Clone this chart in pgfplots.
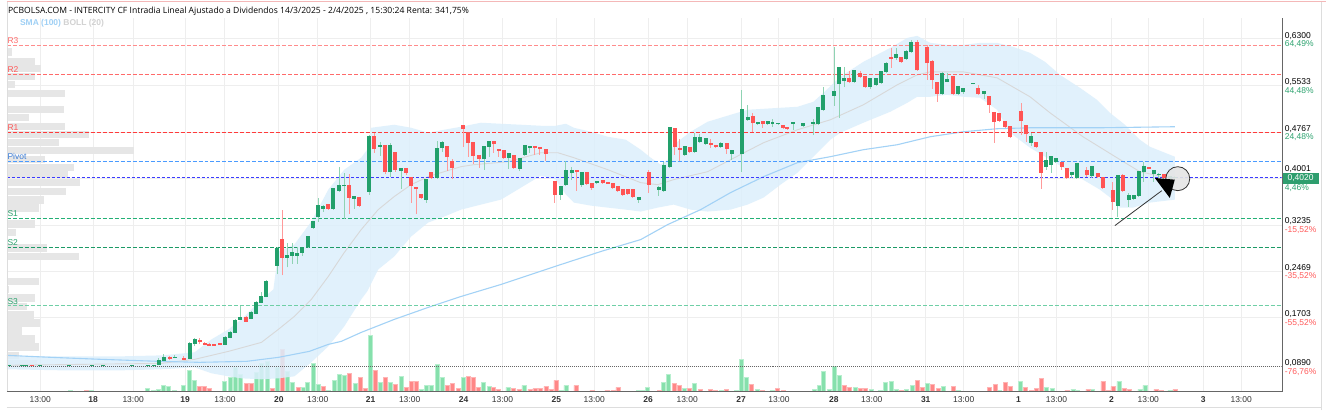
\documentclass[border=0pt]{standalone}
\usepackage{fontspec}
\setmainfont{Liberation Sans}
\newfontfamily\titlefont{Open Sans}
\usepackage{pgfplots}
\pgfplotsset{compat=1.18}
\usepackage{pgfplotstable}

\definecolor{gridgrey}{HTML}{EEEEEE}
\definecolor{axisgrey}{HTML}{666666}
\definecolor{framegrey}{HTML}{DDDDDD}
\definecolor{pinkline}{HTML}{F4B8B8}
\definecolor{bodygreen}{HTML}{22A06B}
\definecolor{wickgreen}{HTML}{8FD3B3}
\definecolor{bodyred}{HTML}{FF5454}
\definecolor{wickred}{HTML}{FF9A9A}
\definecolor{volgreen}{HTML}{86E0AC}
\definecolor{volgreenedge}{HTML}{B8EFCF}
\definecolor{volred}{HTML}{FF8787}
\definecolor{volrededge}{HTML}{FFB5B5}
\definecolor{profgrey}{HTML}{E6E6E6}
\definecolor{bandblue}{HTML}{DCEFFC}
\definecolor{midgrey}{HTML}{D8D8D8}
\definecolor{smablue}{HTML}{A3D2F6}
\definecolor{levRthree}{HTML}{FF8C8C}
\definecolor{levRtwo}{HTML}{FF6A6A}
\definecolor{levRone}{HTML}{FF3B3B}
\definecolor{levPivot}{HTML}{4A9BFF}
\definecolor{levCur}{HTML}{3B3BFF}
\definecolor{levSone}{HTML}{22B075}
\definecolor{levStwo}{HTML}{1C9A66}
\definecolor{levSthree}{HTML}{6FCFA6}
\definecolor{labred}{HTML}{FF5A5A}
\definecolor{labgreen}{HTML}{2DA36F}
\definecolor{labblue}{HTML}{3B7DD8}
\definecolor{boxgreen}{HTML}{2E9E6E}
\definecolor{legblue}{HTML}{9FD0F5}
\definecolor{leggrey}{HTML}{D2D2D2}
\definecolor{ticktext}{HTML}{333333}

\pgfplotstableread{
x o h l c
7 .0905 .0925 .0900 .0913
20 .0905 .0920 .0900 .0913
24 .0907 .0918 .0903 .0913
38 .0905 .0915 .0900 .0913
67 .0910 .0918 .0905 .0915
90 .0908 .0915 .0905 .0913
101 .0908 .0915 .0905 .0913
130 .0908 .0918 .0905 .0913
146 .0905 .0920 .0900 .0915
152 .0913 .0925 .0908 .0920
157 .0929 .1028 .0913 .0995
162 .0995 .1094 .0978 .1044
173 .1036 .1077 .1028 .1044
188 .1028 .1291 .1011 .1275
193 .1275 .1357 .1226 .1341
224 .1258 .1390 .1242 .1374
229 .1374 .1473 .1357 .1456
234 .1456 .1670 .1440 .1654
239 .1670 .1884 .1670 .1703
250 .1687 .1802 .1670 .1786
255 .1769 .1967 .1753 .1950
260 .1950 .2115 .1934 .2049
265 .2049 .2313 .2033 .2296
276 .2560 .2873 .2412 .2840
286 .2692 .2939 .2527 .2725
291 .2725 .2939 .2593 .2774
296 .2725 .2873 .2593 .2766
301 .2774 .2873 .2725 .2856
307 .2873 .3054 .2856 .3038
312 .3186 .3301 .3170 .3285
317 .3367 .3680 .3285 .3548
322 .3499 .3565 .3450 .3532
332 .3499 .3845 .3482 .3828
338 .3795 .4191 .3779 .3878
343 .3870 .4092 .3334 .3878
353 .3664 .3713 .3499 .3697
368 .3779 .4718 .3730 .4685
379 .4520 .4603 .4372 .4537
389 .4108 .4586 .4026 .4537
400 .4125 .4174 .3828 .4158
425 .3647 .3993 .3598 .3977
436 .4010 .4619 .3993 .4487
441 .4504 .4619 .4438 .4586
483 .4323 .4537 .4141 .4520
488 .4520 .4619 .4356 .4603
508 .4339 .4421 .4158 .4405
519 .4158 .4339 .4125 .4323
524 .4389 .4553 .4372 .4537
529 .4512 .4537 .4421 .4520
560 .3730 .3878 .3647 .3861
565 .3894 .4290 .3878 .4125
571 .4092 .4191 .3977 .4125
581 .3894 .4108 .3861 .4092
596 .3927 .3960 .3911 .3944
638 .3647 .3680 .3598 .3680
658 .3812 .3878 .3713 .3845
663 .3795 .4273 .3779 .4207
669 .4191 .4850 .4174 .4833
684 .4389 .4537 .4372 .4520
694 .4438 .4751 .4421 .4669
699 .4603 .4734 .4586 .4669
705 .4570 .4669 .4553 .4652
720 .4520 .4603 .4504 .4570
731 .4405 .4471 .4306 .4454
741 .4405 .5459 .4108 .5130
747 .4965 .5212 .4949 .4998
757 .4899 .4932 .4883 .4916
767 .4899 .4949 .4883 .4932
772 .4899 .4982 .4850 .4916
778 .4899 .4916 .4883 .4908
793 .4899 .4916 .4800 .4916
803 .4866 .4899 .4850 .4899
813 .4899 .4982 .4718 .4916
818 .4899 .5179 .4883 .5163
823 .5130 .5509 .5113 .5360
834 .5360 .6168 .5196 .5426
839 .5558 .5838 .4998 .5822
844 .5608 .5838 .5509 .5641
854 .5591 .5789 .5575 .5772
870 .5509 .5657 .5476 .5641
876 .5542 .5657 .5525 .5641
881 .5575 .5772 .5558 .5756
886 .5756 .5921 .5739 .5904
896 .5987 .6151 .5954 .6052
906 .5970 .6118 .5954 .6102
911 .6085 .6283 .6069 .6250
942 .5393 .5756 .5377 .5723
947 .5591 .5739 .5583 .5624
958 .5393 .5525 .5377 .5509
963 .5426 .5492 .5393 .5476
973 .5558 .5575 .5550 .5566
984 .5393 .5443 .5311 .5426
1031 .4586 .4751 .4537 .4685
1046 .4191 .4438 .4141 .4290
1051 .4224 .4372 .4092 .4356
1056 .4273 .4339 .4257 .4323
1072 .4059 .4108 .4010 .4092
1077 .4010 .4257 .3993 .4240
1092 .4043 .4207 .4010 .4191
1118 .3548 .4059 .3367 .4043
1129 .3647 .3763 .3532 .3713
1134 .3664 .3722 .3647 .3713
1139 .3713 .4125 .3697 .4108
1144 .4108 .4273 .3944 .4191
1154 .4076 .4141 .3944 .4125
1159 .4059 .4092 .4010 .4067
1170 .3993 .4043 .3977 .4026
1175 .4010 .4043 .3993 .4020
}\GreenC

\pgfplotstableread{
x o h l c
30 .0913 .0918 .0900 .0905
168 .1044 .1061 .0995 .1028
182 .1028 .1061 .0995 .1011
198 .1324 .1357 .1258 .1308
203 .1275 .1291 .1242 .1258
208 .1258 .1275 .1234 .1242
213 .1258 .1258 .1242 .1242
219 .1275 .1275 .1242 .1250
245 .1703 .1719 .1621 .1637
281 .2988 .3482 .2395 .2692
327 .3565 .3581 .3482 .3499
348 .3878 .4076 .3417 .3680
358 .3680 .3697 .3532 .3548
373 .4685 .4751 .4421 .4487
384 .4537 .4553 .4076 .4108
394 .4421 .4438 .4108 .4141
405 .4158 .4174 .4059 .4092
410 .4010 .4026 .3598 .3878
415 .3845 .3861 .3417 .3828
420 .3730 .3746 .3664 .3680
430 .4092 .4108 .3993 .4010
446 .4520 .4537 .4125 .4356
451 .4273 .4323 .3993 .4174
462 .4866 .4883 .4520 .4817
467 .4751 .4767 .4356 .4586
472 .4586 .4603 .4240 .4372
478 .4372 .4389 .4174 .4323
493 .4603 .4619 .4421 .4570
498 .4471 .4487 .4356 .4463
503 .4454 .4471 .4323 .4339
513 .4372 .4389 .4158 .4174
534 .4520 .4537 .4389 .4504
539 .4504 .4520 .4389 .4487
545 .4471 .4487 .4290 .4405
554 .3944 .3960 .3598 .3730
576 .4125 .4141 .3795 .4117
586 .4092 .4108 .3894 .3911
591 .3911 .3927 .3812 .3845
602 .3960 .3977 .3911 .3927
607 .3927 .3944 .3911 .3919
612 .3911 .3927 .3828 .3845
617 .3861 .3878 .3779 .3795
622 .3812 .3828 .3713 .3730
627 .3812 .3828 .3730 .3746
632 .3812 .3828 .3680 .3697
648 .4092 .4141 .3763 .3894
674 .4817 .4833 .4389 .4520
679 .4487 .4652 .4290 .4479
689 .4504 .4520 .4421 .4438
710 .4570 .4652 .4504 .4562
715 .4537 .4553 .4504 .4520
726 .4570 .4586 .4405 .4487
752 .5015 .5080 .4767 .4916
762 .4932 .4949 .4833 .4899
783 .4866 .4883 .4817 .4833
787 .4833 .4850 .4800 .4817
849 .5641 .5772 .5575 .5591
860 .5723 .5772 .5657 .5674
865 .5674 .5690 .5492 .5509
891 .5987 .6151 .5822 .5978
901 .5987 .6003 .5904 .5921
917 .6250 .6283 .5772 .5789
927 .6168 .6201 .5624 .5904
932 .5937 .5954 .5476 .5624
937 .5575 .5591 .5262 .5393
953 .5674 .5690 .5377 .5393
978 .5476 .5542 .5377 .5393
989 .5344 .5360 .5080 .5212
994 .5080 .5097 .4586 .4932
999 .5064 .5080 .4932 .4949
1005 .4932 .4949 .4833 .4850
1010 .4850 .4866 .4669 .4685
1021 .5097 .5245 .4718 .4949
1026 .4866 .4883 .4603 .4734
1036 .4586 .4603 .4504 .4520
1041 .4421 .4438 .3828 .4092
1062 .4257 .4273 .4141 .4191
1067 .4158 .4174 .3993 .4010
1087 .4125 .4191 .4026 .4059
1098 .4076 .4092 .4010 .4026
1103 .4010 .4026 .3828 .3845
1113 .3795 .3944 .3482 .3614
1123 .4043 .4076 .3779 .3795
1149 .4174 .4182 .4150 .4158
1164 .4059 .4076 .3993 .4010
}\RedC

\pgfplotstableread{
x v
69 1.3
90 1
146 2.7
152 1
157 2
162 6
167 5.3
173 1
182 6
188 21
193 11
223 10
229 14
234 24
239 17
255 19
260 28
266 30
276 24
286 20
291 9
302 4
306 9
312 28
317 7
327 1
333 11
338 17
343 16
354 8
369 56
379 9
389 9
400 15
420 2
425 6
430 6
436 27
441 14
462 14
482 9
488 5
507 4
523 6
560 1
565 6
638 1
643 1
647 4
663 9
668 17
684 3
694 8
721 1
736 1
741 32
746 14
757 2
772 1
814 2
819 6
823 20
829 2
834 25
839 16
855 4
871 2
880 1
885 9
891 10
896 2
906 2
912 6
927 8
943 5
958 1
999 1
1020 10
1046 4
1052 3
1073 2
1077 1
1092 2
1119 10
1140 2
1145 6
1170 1
}\VolG

\pgfplotstableread{
x v
85 1
198 5
203 5
208 3
245 8
250 8
271 3
281 42
297 4
322 5
348 18
359 14
364 3
374 21
384 14
394 7
405 4
410 10
415 10
446 6
451 8
457 3
467 15
472 14
477 4
492 4
497 2
512 3
518 2
529 2
534 3
539 3
545 5
550 2
555 11
575 6
591 1
606 1
612 1
617 4
659 1
674 8
679 6
689 3
700 2
710 2
715 1
726 2
751 7
762 1
777 3
783 1
844 6
849 4
860 3
865 3
901 1
917 11
922 4
932 7
938 3
953 5
989 4
995 7
1005 9
1010 5
1025 4
1031 1
1036 3
1041 13
1067 1
1088 2
1103 10
1108 1
1113 5
1124 3
1129 2
1156 2
1161 1
1175 2
}\VolR

\pgfplotstableread{
x p len
5 .6085 5
5 .5921 28
5 .5814 34
5 .5682 28
5 .5542 8
5 .5402 58
5 .5138 57
5 .4998 22
5 .4858 58
5 .4726 82
5 .4586 52
5 .4454 127
5 .4314 38
5 .4174 67
5 .4059 61
5 .3927 73
5 .3779 59
5 .3639 37
5 .3507 32
5 .3244 28
5 .3104 9
5 .2848 40
5 .2708 72
5 .2296 32
5 .2165 2
5 .2025 28
5 .1884 20
5 .1744 27
5 .1613 33
5 .1481 15
5 .1349 28
5 .1217 32
5 .1077 12
5 .0945 30
}\Prof

% Bollinger band outline: upper band left to right, then lower band right to left
\pgfplotstableread{
x p
5 .1061
60 .1061
120 .1061
160 .1077
193 .1127
210 .1341
227 .1506
240 .1670
260 .2000
272 .2165
277 .2791
293 .2906
310 .3285
327 .3812
343 .4141
360 .4339
366 .4471
370 .4833
393 .4883
410 .4833
427 .4751
443 .4800
460 .4850
480 .4916
500 .4899
520 .4883
540 .4866
555 .4866
565 .4899
573 .4833
590 .4767
607 .4685
625 .4636
640 .4471
650 .4339
660 .4224
667 .4306
673 .4553
690 .4767
707 .4932
730 .5047
747 .5130
763 .5146
780 .5163
797 .5179
813 .5262
823 .5410
840 .5674
863 .5921
890 .6151
907 .6316
917 .6349
930 .6234
947 .6201
963 .6201
980 .6234
997 .6234
1013 .6168
1030 .6069
1045 .5921
1060 .5706
1080 .5492
1097 .5295
1110 .5080
1125 .4883
1140 .4636
1150 .4520
1175 .4356
1175 .3647
1150 .3598
1133 .3515
1120 .3515
1113 .3647
1100 .3812
1083 .3977
1067 .4141
1050 .4306
1030 .4504
1010 .4751
997 .5130
980 .5328
963 .5344
947 .5377
930 .5344
917 .5344
907 .5245
890 .5097
863 .4916
840 .4751
830 .4636
813 .4356
797 .4092
780 .3894
763 .3680
747 .3565
730 .3482
707 .3450
690 .3482
673 .3565
657 .3515
640 .3450
625 .3482
607 .3515
590 .3548
573 .3598
565 .3730
555 .3977
540 .4043
520 .3845
500 .3647
480 .3565
460 .3482
443 .3367
427 .3268
410 .3038
393 .2708
377 .2494
366 .2132
360 .2000
343 .1555
327 .1226
310 .0962
293 .0731
277 .0698
260 .0682
240 .0698
227 .0731
210 .0781
193 .0880
160 .0847
120 .0830
60 .0830
5 .0847
}\Band

\pgfplotstableread{
x p
5 .0913
160 .0945
193 .1011
227 .1143
260 .1291
277 .1506
293 .1720
310 .2000
327 .2379
343 .2774
360 .3153
377 .3482
393 .3697
410 .3894
427 .4026
443 .4108
460 .4191
473 .4224
507 .4273
540 .4421
557 .4421
573 .4339
607 .4141
640 .3927
657 .3894
673 .3977
707 .4108
730 .4306
763 .4586
797 .4800
830 .4965
863 .5212
897 .5542
917 .5706
930 .5756
963 .5756
997 .5657
1030 .5344
1050 .5080
1083 .4685
1117 .4339
1140 .4108
1167 .4010
1175 .3993
}\Mid

\pgfplotstableread{
x p
5 .1077
50 .1044
100 .1011
158 .0978
198 .0962
245 .0978
277 .1044
308 .1143
327 .1258
340 .1308
360 .1456
393 .1670
427 .1868
460 .2049
500 .2247
560 .2576
600 .2791
640 .2988
667 .3235
700 .3482
730 .3763
763 .4026
797 .4257
830 .4356
863 .4471
897 .4553
930 .4685
963 .4767
997 .4817
1030 .4833
1100 .4833
1175 .4850
}\SMA

\begin{document}
\begin{tikzpicture}[x=1pt,y=1pt]
\fill[white] (0,0) rectangle (1326,411);

% background axis: grid, volume bars and time labels
\begin{axis}[at={(5pt,19pt)}, anchor=south west, scale only axis,
  width=1277pt, height=374pt, xmin=5, xmax=1282, ymin=0, ymax=374,
  axis line style={draw=none}, major tick length=0pt,
  ytick={73.5,120.5,166.5,213.5,259.5,306.5,353.5}, yticklabel={\empty},
  xtick={38.5,91.5,131.5,183.5,223.5,277.5,316.5,369.5,408.5,462.5,501.5,555.5,593.5,647.5,686.5,740.5,778.5,833.5,871.5,925.5,963.5,1018.5,1056.5,1111.5,1148.5,1203.5,1241.5},
  xticklabels={13:00,\textbf{18},13:00,\textbf{19},13:00,\textbf{20},13:00,\textbf{21},13:00,\textbf{24},13:00,\textbf{25},13:00,\textbf{26},13:00,\textbf{27},13:00,\textbf{28},13:00,\textbf{31},13:00,\textbf{1},13:00,\textbf{2},13:00,\textbf{3},13:00},
  xmajorgrids, ymajorgrids, grid style={gridgrey, line width=1pt},
  x tick label style={font=\fontsize{8.5}{10}\selectfont, text=ticktext, yshift=-1.5pt}]
\addplot[ybar, bar width=4pt, bar shift=0pt, fill=volgreen, draw=volgreenedge, line width=0.5pt] table[x=x,y=v] {\VolG};
\addplot[ybar, bar width=4pt, bar shift=0pt, fill=volred, draw=volrededge, line width=0.5pt] table[x=x,y=v] {\VolR};
\end{axis}

% price axis
\begin{axis}[at={(5pt,19pt)}, anchor=south west, scale only axis,
  width=1277pt, height=374pt, xmin=5, xmax=1282, ymin=0.0484, ymax=0.6645,
  hide axis]
% volume profile
\addplot[mark=none, draw opacity=0, forget plot, error bars/.cd, x dir=plus, x explicit, error mark=none,
  error bar style={draw=profgrey, draw opacity=1, line width=7.4pt}] table[x=x, y=p, x error=len] {\Prof};
% Bollinger band
\addplot[fill=bandblue, fill opacity=0.85, draw=none, forget plot] table[x=x,y=p] {\Band} -- cycle;
\addplot[color=midgrey, line width=0.9pt, mark=none] table[x=x,y=p] {\Mid};
\addplot[color=smablue, line width=1.1pt, mark=none] table[x=x,y=p] {\SMA};
% levels
\addplot[color=levRthree, mark=none, line width=1pt, dash pattern=on 4pt off 2pt] coordinates {(5,0.61921) (1282,0.61921)};
\addplot[color=levRtwo, mark=none, line width=1pt, dash pattern=on 4pt off 2pt] coordinates {(5,0.57144) (1282,0.57144)};
\addplot[color=levRone, mark=none, line width=1pt, dash pattern=on 4pt off 2pt] coordinates {(5,0.47589) (1282,0.47589)};
\addplot[color=levPivot, mark=none, line width=1pt, dash pattern=on 4pt off 2pt] coordinates {(5,0.42811) (1282,0.42811)};
\addplot[color=levCur, mark=none, line width=1pt, dash pattern=on 3pt off 2pt] coordinates {(5,0.40175) (1282,0.40175)};
\addplot[color=levSone, mark=none, line width=1pt, dash pattern=on 4pt off 2pt] coordinates {(5,0.33420) (1282,0.33420)};
\addplot[color=levStwo, mark=none, line width=1pt, dash pattern=on 4pt off 2pt] coordinates {(5,0.28644) (1282,0.28644)};
\addplot[color=levSthree, mark=none, line width=1pt, dash pattern=on 4pt off 2pt] coordinates {(5,0.18924) (1282,0.18924)};
\addplot[color=axisgrey, mark=none, line width=1pt, dash pattern=on 1pt off 1pt] coordinates {(5,0.08878) (1282,0.08878)};
% candles: wicks
\addplot[mark=none, draw opacity=0, forget plot, error bars/.cd, y dir=plus, y explicit, error mark=none,
  error bar style={draw=wickgreen, draw opacity=1, line width=1pt}] table[x=x, y=l, y error expr=\thisrow{h}-\thisrow{l}] {\GreenC};
\addplot[mark=none, draw opacity=0, forget plot, error bars/.cd, y dir=plus, y explicit, error mark=none,
  error bar style={draw=wickred, draw opacity=1, line width=1pt}] table[x=x, y=l, y error expr=\thisrow{h}-\thisrow{l}] {\RedC};
% candles: bodies
\addplot[mark=none, draw opacity=0, forget plot, error bars/.cd, y dir=plus, y explicit, error mark=none,
  error bar style={draw=bodygreen, draw opacity=1, line width=4pt}] table[x=x, y expr={min(\thisrow{o},\thisrow{c})-0.0006}, y error expr={abs(\thisrow{c}-\thisrow{o})+0.0012}] {\GreenC};
\addplot[mark=none, draw opacity=0, forget plot, error bars/.cd, y dir=plus, y explicit, error mark=none,
  error bar style={draw=bodyred, draw opacity=1, line width=4pt}] table[x=x, y expr={min(\thisrow{o},\thisrow{c})-0.0006}, y error expr={abs(\thisrow{c}-\thisrow{o})+0.0012}] {\RedC};
\end{axis}

% frame
\draw[axisgrey, line width=1pt] (5,18.5) -- (1282.5,18.5);
\draw[axisgrey, line width=1pt] (1282.5,18.5) -- (1282.5,393);
\draw[framegrey, line width=1pt] (5.5,19) -- (5.5,409);
\draw[pinkline, line width=1pt] (5,409.5) -- (1326,409.5);
\draw[framegrey, line width=1pt] (1321.5,0) -- (1321.5,409);
\draw[framegrey, line width=1pt] (5,2.5) -- (1321,2.5);

% title and legend
\node[anchor=base west, inner sep=0, text=black] at (6,397.7) {\titlefont\fontsize{8.6}{10}\selectfont PCBOLSA.COM - INTERCITY CF Intradia Lineal Ajustado a Dividendos 14/3/2025 - 2/4/2025 , 15:30:24 Renta: 341,75\%};
\node[anchor=base west, inner sep=0] at (18,385.5) {\fontsize{8.5}{10}\selectfont\bfseries\textcolor{legblue}{SMA (100)} \textcolor{leggrey}{BOLL (20)}};

% level labels
\begin{scope}[every node/.style={anchor=base west, inner sep=0, font=\fontsize{8.5}{10}\selectfont}]
\node[text=levRtwo] at (5.5,367.3) {R3};
\node[text=labred] at (5.5,338.3) {R2};
\node[text=labred] at (5.5,280.3) {R1};
\node[text=labblue] at (5.5,251.3) {Pivot};
\node[text=labgreen] at (5.5,194.3) {S1};
\node[text=labgreen] at (5.5,165.3) {S2};
\node[text=labgreen] at (5.5,106.3) {S3};
% right price labels
\node[text=black] at (1285,372.7) {0,6300};
\node[text=labgreen] at (1285,364) {64,49\%};
\node[text=black] at (1285,326.2) {0,5533};
\node[text=labgreen] at (1285,317.5) {44,48\%};
\node[text=black] at (1285,279.7) {0,4767};
\node[text=labgreen] at (1285,271) {24,48\%};
\node[text=black] at (1285,239.3) {0,4001};
\node[text=labgreen] at (1285,219.8) {4,46\%};
\node[text=black] at (1285,186.7) {0,3235};
\node[text=labred] at (1285,178) {-15,52\%};
\node[text=black] at (1285,140.2) {0,2469};
\node[text=labred] at (1285,131.5) {-35,52\%};
\node[text=black] at (1285,93.7) {0,1703};
\node[text=labred] at (1285,85) {-55,52\%};
\node[text=black] at (1285,44.7) {0,0890};
\node[text=labred] at (1285,36) {-76,76\%};
\end{scope}
\fill[boxgreen] (1283,227) rectangle (1319,238);
\node[text=white, inner sep=0, font=\fontsize{8.5}{10}\selectfont] at (1301,232.4) {0,4020};

% annotation
\draw[black!80, line width=0.8pt] (1115,185) -- (1162,220);
\draw[black!80, fill=black!10, fill opacity=0.9, line width=0.8pt] (1178,232) circle (12);
\fill[black] (1155,232.7) -- (1175,231) -- (1170,212.7) -- cycle;
\path (0,0) rectangle (1326,411);
\end{tikzpicture}
\end{document}
